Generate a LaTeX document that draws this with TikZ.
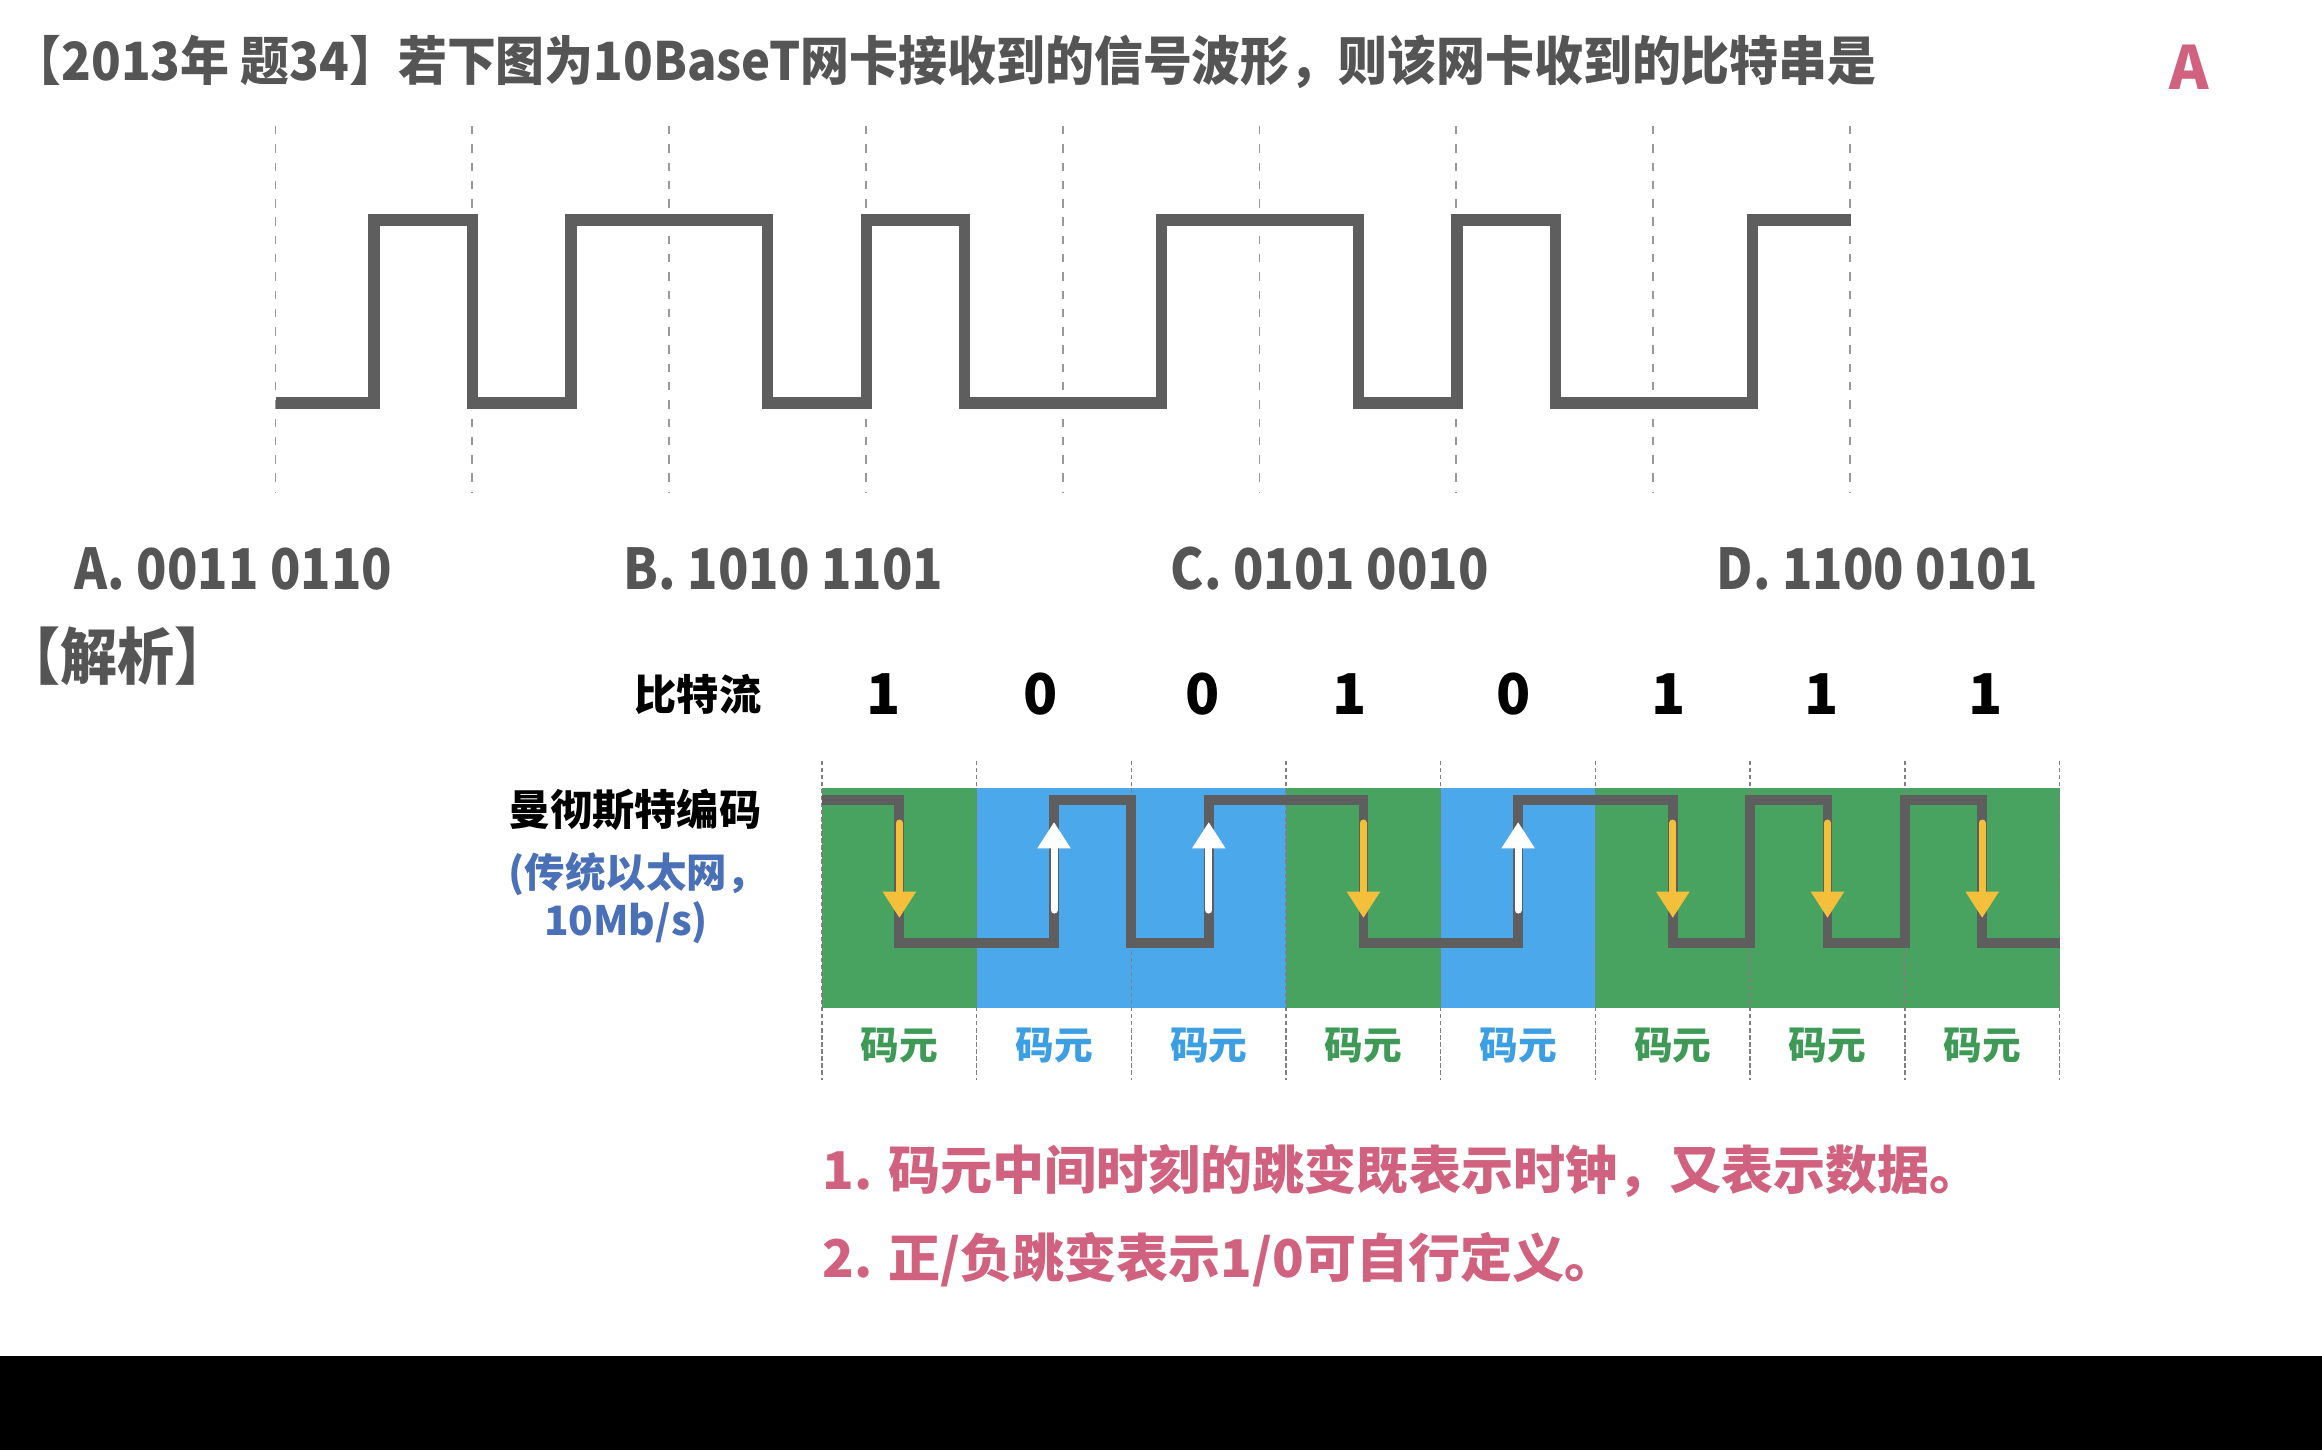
\documentclass[tikz,border=0pt]{standalone}
\usepackage{fontspec}
\setmainfont{Noto Sans CJK SC}
\newfontfamily\narrowfont{Noto Sans CJK SC}[FakeStretch=0.927]
\newfontfamily\optfont{Noto Sans CJK SC}[FakeStretch=0.89]
\usetikzlibrary{arrows.meta}

\definecolor{txtgray}{HTML}{555555}
\definecolor{wavegray}{HTML}{5E5E5E}
\definecolor{cellgreen}{HTML}{48A260}
\definecolor{cellblue}{HTML}{4BA9EB}
\definecolor{arrowyellow}{HTML}{F4BF3A}
\definecolor{labelgreen}{HTML}{3E9A56}
\definecolor{labelblue}{HTML}{3C9EE3}
\definecolor{notepink}{HTML}{D0627F}
\definecolor{speedblue}{HTML}{4A70B8}

\begin{document}
\begin{tikzpicture}[x=0.01cm,y=-0.01cm,font=\bfseries,every node/.style={inner sep=0pt}]
    \useasboundingbox (0,0) rectangle (2322,1450);
    \fill[white] (0,0) rectangle (2322,1450);
    \fill[black] (0,1356) rectangle (2322,1450);
    % question
    \node[anchor=west,text=txtgray,font=\narrowfont\fontsize{15pt}{18pt}\selectfont\bfseries] (title) at (12,62) {【2013年 题34】若下图为10BaseT网卡接收到的信号波形，则该网卡收到的比特串是};
    \node[text=notepink,font=\fontsize{17pt}{20pt}\selectfont\bfseries] (answer) at (2189,67) {A};
    % received waveform
    \foreach \i in {0,...,8}
        \draw[gray!80,line width=0.5pt,dash pattern=on 2.4pt off 2.8pt] (275.5+196.8*\i,126) -- (275.5+196.8*\i,492);
    \begin{scope}[shift={(275.5,0)},x=0.984cm]
        \draw[wavegray,line width=3.2pt] (0,403) -- (1,403) -- (1,220) -- (2,220) -- (2,403) -- (3,403) -- (3,220) -- (5,220) -- (5,403) -- (6,403) -- (6,220) -- (7,220) -- (7,403) -- (9,403) -- (9,220) -- (11,220) -- (11,403) -- (12,403) -- (12,220) -- (13,220) -- (13,403) -- (15,403) -- (15,220) -- (16,220);
    \end{scope}
    % choices
    \begin{scope}[every node/.style={anchor=west,inner sep=0pt,text=txtgray,font=\optfont\fontsize{16pt}{19pt}\selectfont\bfseries}]
        \node (optA) at (74,569) {A. 0011 0110};
        \node (optB) at (623,569) {B. 1010 1101};
        \node (optC) at (1170,569) {C. 0101 0010};
        \node (optD) at (1716,569) {D. 1100 0101};
    \end{scope}
    \node[anchor=west,text=txtgray,font=\narrowfont\fontsize{17.5pt}{20pt}\selectfont\bfseries] (analysis) at (3,656) {【解析】};
    % manchester
    \node[anchor=east,font=\fontsize{12pt}{14pt}\selectfont\bfseries] (streamlabel) at (762,694) {比特流};
    \node[anchor=east,font=\fontsize{12pt}{14pt}\selectfont\bfseries] (codelabel) at (762,810) {曼彻斯特编码};
    \node[text=speedblue,font=\fontsize{11.5pt}{14pt}\selectfont\bfseries] (speedA) at (638,874) {(传统以太网，};
    \node[text=speedblue,font=\fontsize{11.5pt}{14pt}\selectfont\bfseries] (speedB) at (626,923) {10Mb/s)};
    \begin{scope}[shift={(822,0)},x=0.773cm]
        \foreach \b/\c/\t/\p [count=\j from 0] in {1/cellgreen/labelgreen/0.8,0/cellblue/labelblue/2.83,0/cellblue/labelblue/4.92,1/cellgreen/labelgreen/6.82,0/cellblue/labelblue/8.94,1/cellgreen/labelgreen/10.94,1/cellgreen/labelgreen/12.93,1/cellgreen/labelgreen/15.04}{
            \fill[\c] (2*\j,788) rectangle (2*\j+2,1008);
            \node[font=\fontsize{16pt}{19pt}\selectfont\bfseries] (bit\j) at (\p,694) {\b};
            \node[text=\t,font=\fontsize{11pt}{13pt}\selectfont\bfseries] (sym\j) at (2*\j+1,1045) {码元};
        }
        \foreach \j in {0,...,8}
            \draw[gray,line width=0.4pt,dash pattern=on 1.2pt off 0.8pt] (2*\j,761) -- (2*\j,1080);
        \draw[wavegray,line width=2.8pt] (0,800) -- (1,800) -- (1,943) -- (3,943) -- (3,800) -- (4,800) -- (4,943) -- (5,943) -- (5,800) -- (7,800) -- (7,943) -- (9,943) -- (9,800) -- (11,800) -- (11,943) -- (12,943) -- (12,800) -- (13,800) -- (13,943) -- (14,943) -- (14,800) -- (15,800) -- (15,943) -- (16,943);
        \foreach \j in {0,3,5,6,7}
            \draw[arrowyellow,line width=2pt,line cap=round,-{Triangle[width=9pt,length=7.5pt]}] (2*\j+1,823) -- (2*\j+1,918);
        \foreach \j in {1,2,4}
            \draw[white,line width=2pt,line cap=round,-{Triangle[width=9pt,length=7.5pt]}] (2*\j+1,910) -- (2*\j+1,822);
    \end{scope}
    % notes
    \node[anchor=west,text=notepink,font=\fontsize{14.8pt}{18pt}\selectfont\bfseries] (noteA) at (822,1171) {1. 码元中间时刻的跳变既表示时钟，又表示数据。};
    \node[anchor=west,text=notepink,font=\fontsize{14.8pt}{18pt}\selectfont\bfseries] (noteB) at (822,1260) {2. 正/负跳变表示1/0可自行定义。};
\end{tikzpicture}
\end{document}
